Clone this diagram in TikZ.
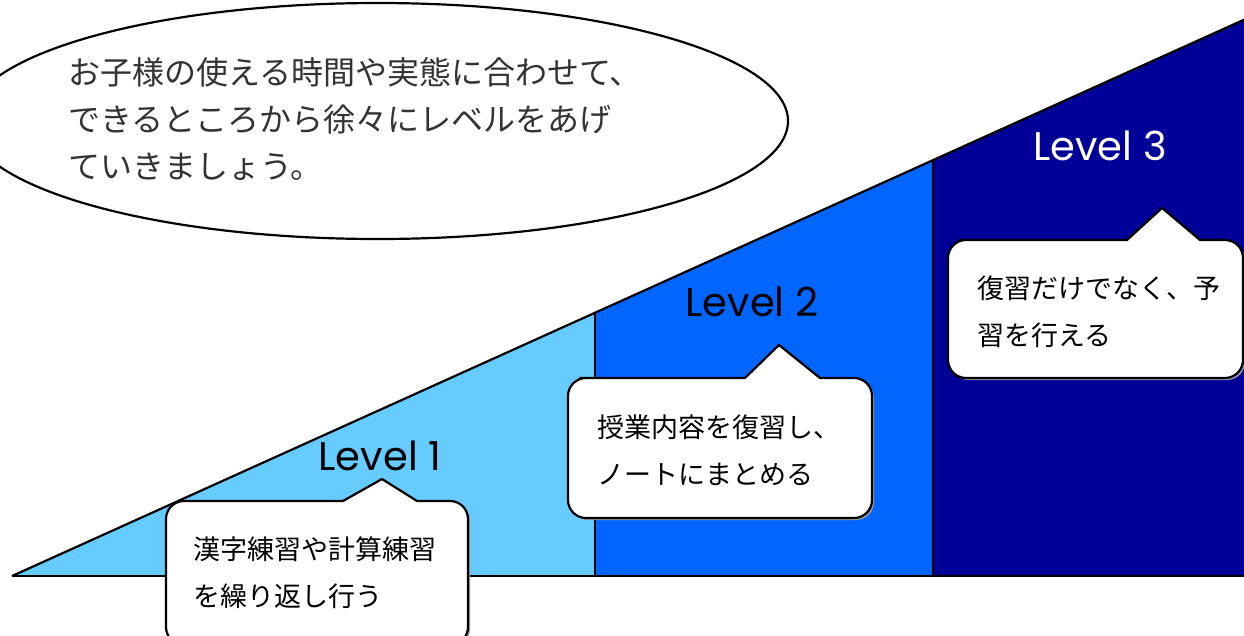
\documentclass[tikz,border=0pt]{standalone}
\usepackage{fontspec}
\newfontfamily\jp{Noto Sans CJK JP}
\newfontfamily\lvfont{Poppins}
\usetikzlibrary{shapes.geometric}
\definecolor{lvone}{HTML}{66CCFF}
\definecolor{lvtwo}{HTML}{0066FF}
\definecolor{lvthree}{HTML}{000099}
\definecolor{jtext}{HTML}{333333}
\newcommand\calloutpath[8]{({#1+30},#2) -- (#5,#2) -- (#6,#7) -- (#8,#2) -- ({#3-30},#2) [rounded corners=18] -- (#3,#2) -- (#3,#4) -- (#1,#4) -- (#1,#2) -- cycle}
\tikzset{
  edge/.style={line width=2.2pt, line join=round},
  lvlabel/.style={font=\lvfont\fontsize{40}{40}\selectfont, inner sep=0pt},
  bubtext/.style={font=\jp\fontsize{27}{47}\selectfont, anchor=west, align=left, inner sep=0pt, text=black},
  shadowfill/.style={fill=black!40},
  bubble/.style={draw=black, line width=2.2pt, fill=white, line join=round}
}
\begin{document}
\begin{tikzpicture}[x=1pt,y=-1pt]
\useasboundingbox (0,0) rectangle (1244,635);
\clip (0,0) rectangle (1244,635);
% triangle corners
\coordinate (A) at (12,576);
\coordinate (B) at (595,576);
\coordinate (C) at (595,312.8);
\coordinate (D) at (933,576);
\coordinate (E) at (933,160.2);
\coordinate (F) at (1250,576);
\coordinate (G) at (1250,17);
\fill[lvone] (A) -- (B) -- (C) -- cycle;
\fill[lvtwo] (B) -- (D) -- (E) -- (C) -- cycle;
\fill[lvthree] (D) -- (F) -- (G) -- (E) -- cycle;
\draw[edge] (B) -- (C);
\draw[edge] (D) -- (E);
\draw[edge] (A) -- (G);
\draw[edge] (A) -- (F);
% ellipse
\node[ellipse, draw, line width=2.2pt, fill=white, minimum width=820, minimum height=236, inner sep=0pt] (ell) at (378,121) {};
\node[font=\jp\fontsize{32}{47}\selectfont, text=jtext, anchor=west, align=left, inner sep=0pt] (etext) at (68,119)
  {お子様の使える時間や実態に合わせて、\\できるところから徐々にレベルをあげ\\ていきましょう。};
% level labels
\node[lvlabel] (l1) at (380,456) {Level 1};
\node[lvlabel] (l2) at (752,302) {Level 2};
\node[lvlabel, text=white] (l3) at (1100,146) {Level 3};
% callouts
\fill[shadowfill, shift={(2,2)}] \calloutpath{166}{501}{468}{645}{343}{382}{479}{417};
\draw[bubble] \calloutpath{166}{501}{468}{645}{343}{382}{479}{417};
\fill[shadowfill, shift={(2,2)}] \calloutpath{568}{378}{872}{518}{745}{779}{345}{820};
\draw[bubble] \calloutpath{568}{378}{872}{518}{745}{779}{345}{820};
\fill[shadowfill, shift={(2,2)}] \calloutpath{948}{240}{1243}{378}{1127}{1162}{208}{1200};
\draw[bubble] \calloutpath{948}{240}{1243}{378}{1127}{1162}{208}{1200};
\node[bubtext] (c1) at (193,573) {漢字練習や計算練習\\を繰り返し行う};
\node[bubtext] (c2) at (597,450) {授業内容を復習し、\\ノートにまとめる};
\node[bubtext] (c3) at (977,312) {復習だけでなく、予\\習を行える};
\end{tikzpicture}
\end{document}
